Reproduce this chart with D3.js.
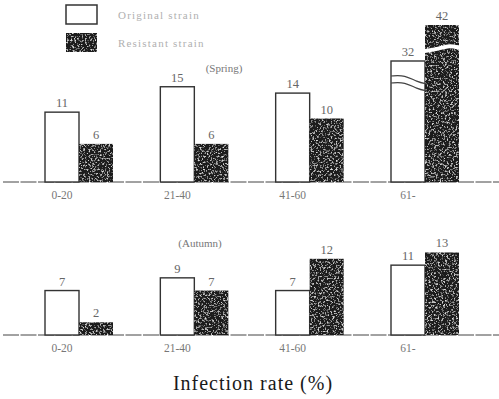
<!DOCTYPE html>
<html>
<head>
<meta charset="utf-8">
<script src="https://cdn.jsdelivr.net/npm/d3@7"></script>
<style>
  body { margin: 0; background: #fff; }
  svg { display: block; }
</style>
</head>
<body>
<svg id="chart" width="499" height="399"></svg>
<script>
const categories = ['0-20', '21-40', '41-60', '61-'];
const seriesNames = ['Original strain', 'Resistant strain'];
const springOriginal = [11, 15, 14, 32];
const springResistant = [6, 6, 10, 42];
const autumnOriginal = [7, 9, 7, 11];
const autumnResistant = [2, 7, 12, 13];
const brokenCategories = ['61-']; // spring bars that run off the scale

const W = 499, H = 399;
const unit = 6.35;            // px per percent point below the break
const serif = '"Liberation Serif", "DejaVu Serif", serif';

const svg = d3.select('#chart');

// speckled texture for the resistant bars
const defs = svg.append('defs');
const grain = defs.append('filter').attr('id', 'grain')
  .attr('x', 0).attr('y', 0).attr('width', 1).attr('height', 1);
grain.append('feTurbulence')
  .attr('type', 'fractalNoise').attr('baseFrequency', 0.55)
  .attr('numOctaves', 3).attr('seed', 7).attr('result', 'noise');
grain.append('feColorMatrix').attr('in', 'noise').attr('type', 'matrix')
  .attr('values', '0 0 0 0 0.72  0 0 0 0 0.72  0 0 0 0 0.72  4 0 0 0 -2.15')
  .attr('result', 'spots');
grain.append('feComposite').attr('in', 'spots').attr('in2', 'SourceGraphic')
  .attr('operator', 'in').attr('result', 'spotsIn');
const merge = grain.append('feMerge');
merge.append('feMergeNode').attr('in', 'SourceGraphic');
merge.append('feMergeNode').attr('in', 'spotsIn');

/** Scales */
const x = d3.scalePoint().domain(categories).range([79, 425]);
const xs = d3.scaleBand().domain(seriesNames).range([-34, 34]);

const makeY = base => d3.scaleLinear()
  .domain([0, 16, 32, 42])
  .range([base, base - 16 * unit, base - 121, base - 157]);

/** Legend */
const legend = svg.append('g');
seriesNames.forEach((name, i) => {
  legend.append('rect')
    .attr('x', 66).attr('y', 5 + i * 28)
    .attr('width', 31).attr('height', 19)
    .attr('fill', i === 0 ? '#fff' : '#1c1c1c')
    .attr('stroke', '#333').attr('stroke-width', i === 0 ? 1.5 : 0)
    .attr('filter', i === 0 ? null : 'url(#grain)');
  legend.append('text')
    .attr('x', 118).attr('y', 19 + i * 28)
    .text(name)
    .style('font-family', serif).style('font-size', '11px')
    .style('letter-spacing', '1.2px')
    .attr('fill', '#b0b0b0');
});

function drawPanel(base, orig, res, season, seasonX, withBreaks) {
  const y = makeY(base);
  const g = svg.append('g');

  g.append('line')
    .attr('x1', 3).attr('x2', W).attr('y1', base).attr('y2', base)
    .attr('stroke', '#444').attr('stroke-width', 1)
    .attr('stroke-dasharray', '16,1.5');

  g.append('text')
    .attr('x', seasonX).attr('y', base - 110 + (withBreaks ? 0 : 22))
    .attr('text-anchor', 'middle')
    .text(season)
    .style('font-family', serif).style('font-size', '11px')
    .attr('fill', '#777');

  const rows = categories.map((c, i) => [
    { cat: c, s: seriesNames[0], v: orig[i] },
    { cat: c, s: seriesNames[1], v: res[i] }
  ]).flat();

  g.selectAll('.bar')
    .data(rows)
    .enter()
    .append('rect')
    .attr('class', 'bar')
    .attr('x', d => x(d.cat) + xs(d.s))
    .attr('y', d => y(d.v))
    .attr('width', xs.bandwidth())
    .attr('height', d => base - y(d.v))
    .attr('fill', d => d.s === seriesNames[0] ? '#fff' : '#1c1c1c')
    .attr('stroke', d => d.s === seriesNames[0] ? '#333' : 'none')
    .attr('stroke-width', 1.4)
    .attr('filter', d => d.s === seriesNames[0] ? null : 'url(#grain)');

  g.selectAll('.val')
    .data(rows)
    .enter()
    .append('text')
    .attr('class', 'val')
    .attr('x', d => x(d.cat) + xs(d.s) + xs.bandwidth() / 2)
    .attr('y', d => y(d.v) - 5)
    .attr('text-anchor', 'middle')
    .text(d => d.v)
    .style('font-family', serif).style('font-size', '12.5px')
    .attr('fill', '#666');

  g.selectAll('.cat')
    .data(categories)
    .enter()
    .append('text')
    .attr('class', 'cat')
    .attr('x', d => x(d) - 17)
    .attr('y', base + 17)
    .attr('text-anchor', 'middle')
    .text(d => d)
    .style('font-family', serif).style('font-size', '11.5px')
    .attr('fill', '#777');

  if (withBreaks) {
    const wave = d3.line().curve(d3.curveBasis);
    rows.filter(d => brokenCategories.includes(d.cat)).forEach(d => {
      const x0 = x(d.cat) + xs(d.s), x1 = x0 + xs.bandwidth();
      if (d.s === seriesNames[0]) {
        const t = y(d.v) + 15;
        [0, 7].forEach(off => {
          g.append('path')
            .attr('d', wave([[x0, t + off], [x0 + 14, t + off - 1], [x1 - 8, t + off + 6], [x1 + 2, t + off + 8]]))
            .attr('fill', 'none').attr('stroke', '#444').attr('stroke-width', 1.2);
        });
      } else {
        const t = y(d.v) + 24;
        g.append('path')
          .attr('d', wave([[x0 - 1, t + 2], [x0 + 14, t], [x1 - 10, t - 4], [x1 + 1, t - 1]]))
          .attr('fill', 'none').attr('stroke', '#fff').attr('stroke-width', 4);
      }
    });
  }
}

drawPanel(182, springOriginal, springResistant, '(Spring)', 224, true);
drawPanel(335, autumnOriginal, autumnResistant, '(Autumn)', 200, false);

svg.append('text')
  .attr('x', 253).attr('y', 390)
  .attr('text-anchor', 'middle')
  .text('Infection rate (%)')
  .style('font-family', serif).style('font-size', '20px')
  .style('letter-spacing', '1px')
  .attr('fill', '#1a1a1a');
</script>
</body>
</html>
